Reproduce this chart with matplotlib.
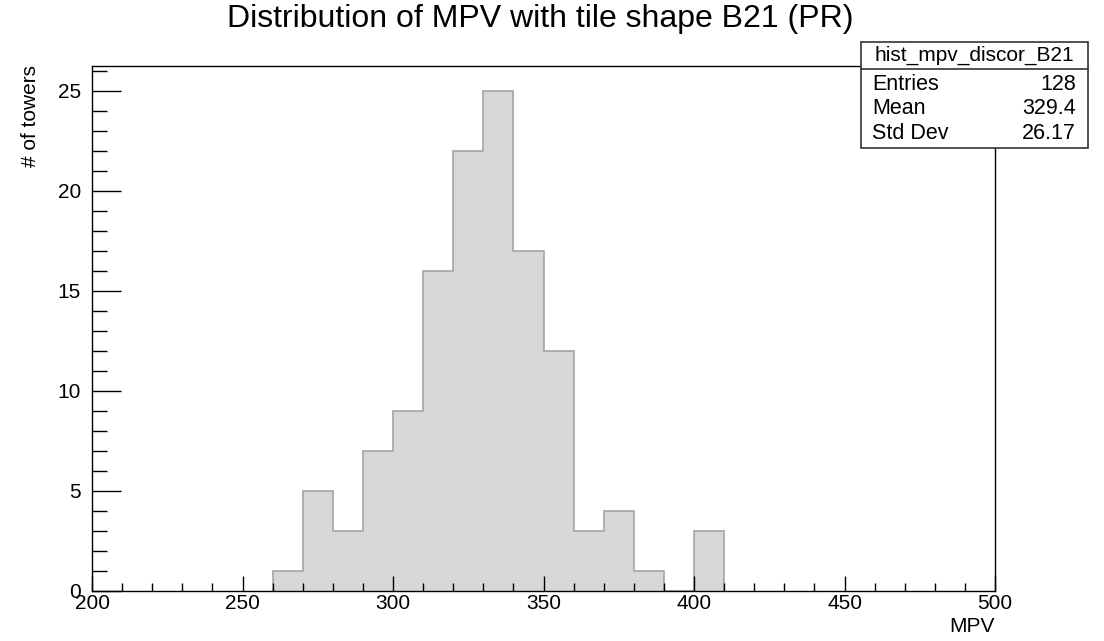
import numpy as np
import matplotlib.pyplot as plt
from matplotlib.ticker import MultipleLocator

# ---------------------------------------------------
# Histogram data (bin width 10)
bin_edges = [260, 270, 280, 290, 300, 310, 320, 330, 340, 350, 360, 370, 380, 390, 400, 410]
counts = [1, 5, 3, 7, 9, 16, 22, 25, 17, 12, 3, 4, 1, 0, 3]

hist_name = "hist_mpv_discor_B21"
stat_labels = ["Entries", "Mean", "Std Dev"]
stat_values = ["128", "329.4", "26.17"]

plt.rcParams["font.family"] = ["Liberation Sans", "DejaVu Sans"]

W, H = 1104, 641
fig = plt.figure(figsize=(W / 100, H / 100), dpi=100)
ax = fig.add_axes([92 / W, 1 - 591 / H, (995 - 92) / W, (591 - 66) / H])

ax.stairs(counts, bin_edges, fill=True, facecolor="#d7d7d7", edgecolor="none")
ax.stairs(counts, bin_edges, fill=False, edgecolor="#a4a4a4", linewidth=1.2)

ax.set_xlim(200, 500)
ax.set_ylim(0, 26.25)

ax.xaxis.set_major_locator(MultipleLocator(50))
ax.xaxis.set_minor_locator(MultipleLocator(10))
ax.yaxis.set_major_locator(MultipleLocator(5))
ax.yaxis.set_minor_locator(MultipleLocator(1))

ax.tick_params(axis="x", which="major", direction="in", length=11, width=1, labelsize=15, pad=2)
ax.tick_params(axis="x", which="minor", direction="in", length=6, width=1)
ax.tick_params(axis="y", which="major", direction="in", length=21, width=1, labelsize=15, pad=8)
ax.tick_params(axis="y", which="minor", direction="in", length=11, width=1)

for sp in ax.spines.values():
    sp.set_linewidth(1)

# axis titles
fig.text(31 / W, 1 - 65 / H, "# of towers", rotation=90, ha="center", va="top", fontsize=15)
fig.text(995 / W, 1 - 627 / H, "MPV", ha="right", va="center", fontsize=15)

fig.text(540 / W, 1 - 19 / H, "Distribution of MPV with tile shape B21 (PR)",
         ha="center", va="center", fontsize=23)

# ---------------------------------------------------
# Stats box
bx0, bx1, by0, by1, bsep = 861, 1088, 42, 148, 69
box = plt.Rectangle((bx0 / W, 1 - by1 / H), (bx1 - bx0) / W, (by1 - by0) / H,
                    transform=fig.transFigure, facecolor="white", edgecolor="#333333",
                    linewidth=1.2, zorder=5)
fig.add_artist(box)
fig.add_artist(plt.Line2D([bx0 / W, bx1 / W], [1 - bsep / H, 1 - bsep / H],
                          transform=fig.transFigure, color="#333333", linewidth=1.2, zorder=6))
fig.text((bx0 + bx1) / 2 / W, 1 - 55 / H, hist_name, ha="center", va="center",
         fontsize=15, zorder=7)
for i, (lab, val) in enumerate(zip(stat_labels, stat_values)):
    y = 1 - (84 + i * 24.5) / H
    fig.text(872 / W, y, lab, ha="left", va="center", fontsize=15.5, zorder=7)
    fig.text(1076 / W, y, val, ha="right", va="center", fontsize=15.5, zorder=7)

plt.savefig("out.png", dpi=100)
